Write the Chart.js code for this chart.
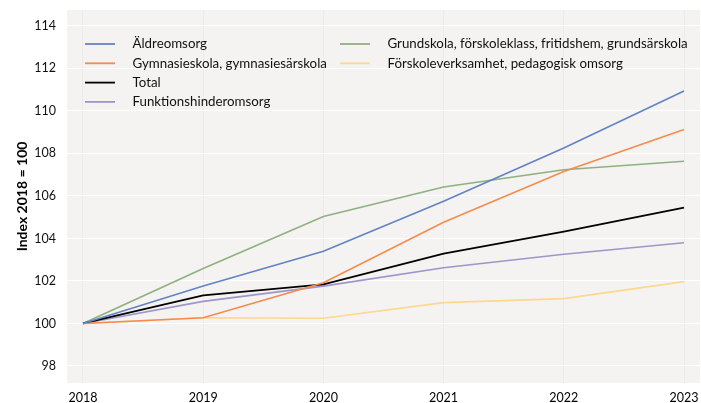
<!DOCTYPE html>
<html>
<head>
<meta charset="utf-8">
<script src="https://cdn.jsdelivr.net/npm/chart.js@4/dist/chart.umd.min.js"></script>
<style>
  html, body { margin: 0; padding: 0; background: #fff; }
  #wrap { width: 701px; height: 403px; }
</style>
</head>
<body>
<div id="wrap"><canvas id="chart"></canvas></div>
<script>
const years = [2018, 2019, 2020, 2021, 2022, 2023];
const yTicks = [98, 100, 102, 104, 106, 108, 110, 112, 114];

const aldreomsorg = [100, 101.76, 103.4, 105.75, 108.26, 110.94];
const gymnasieskola = [100, 100.27, 101.92, 104.76, 107.15, 109.13];
const total = [100, 101.32, 101.84, 103.29, 104.32, 105.45];
const funktionshinder = [100, 101.04, 101.76, 102.62, 103.26, 103.8];
const grundskola = [100, 102.59, 105.03, 106.42, 107.23, 107.63];
const forskola = [100, 100.27, 100.25, 100.98, 101.17, 101.97];

const FONT = "Lato, 'Noto Sans', sans-serif";

const series = [
    { label: 'Äldreomsorg', data: aldreomsorg, color: '#6283c2', width: 1.6 },
    { label: 'Gymnasieskola, gymnasiesärskola', data: gymnasieskola, color: '#f58b4c', width: 1.6 },
    { label: 'Total', data: total, color: '#000000', width: 1.8 },
    { label: 'Funktionshinderomsorg', data: funktionshinder, color: '#9e95cb', width: 1.6 },
    { label: 'Grundskola, förskoleklass, fritidshem, grundsärskola', data: grundskola, color: '#8fb07f', width: 1.6 },
    { label: 'Förskoleverksamhet, pedagogisk omsorg', data: forskola, color: '#fdd88d', width: 1.6 }
];

// light panel behind the plot
const panelBg = {
    id: 'panelBg',
    beforeDraw(chart) {
        const { ctx, chartArea: a } = chart;
        ctx.save();
        ctx.fillStyle = '#f4f3f1';
        ctx.fillRect(a.left, a.top, a.right - a.left, a.bottom - a.top);
        ctx.restore();
    }
};

// two-column legend in the top left of the panel
const colLegend = {
    id: 'colLegend',
    afterDraw(chart) {
        const { ctx, chartArea: a } = chart;
        const cols = [[0, 1, 2, 3], [4, 5]];
        const colX = [a.left + 18, a.left + 273];
        ctx.save();
        ctx.font = '13.3px ' + FONT;
        ctx.textBaseline = 'middle';
        cols.forEach((idx, c) => {
            idx.forEach((i, r) => {
                const ds = chart.data.datasets[i];
                const y = a.top + 34 + r * 19.3;
                ctx.strokeStyle = ds.borderColor;
                ctx.lineWidth = 1.8;
                ctx.beginPath();
                ctx.moveTo(colX[c], y);
                ctx.lineTo(colX[c] + 30, y);
                ctx.stroke();
                ctx.fillStyle = '#111';
                ctx.fillText(ds.label, colX[c] + 47.5, y);
            });
        });
        ctx.restore();
    }
};

new Chart(document.getElementById('chart'), {
    type: 'line',
    data: {
        datasets: series.map(s => ({
            label: s.label,
            data: years.map((yr, i) => ({ x: yr, y: s.data[i] })),
            borderColor: s.color,
            backgroundColor: s.color,
            borderWidth: s.width,
            pointRadius: 0,
            tension: 0
        }))
    },
    options: {
        responsive: true,
        maintainAspectRatio: false,
        animation: false,
        layout: { padding: { top: 10, right: 1, left: 0, bottom: 0 } },
        plugins: {
            legend: { display: false },
            tooltip: { enabled: false }
        },
        scales: {
            x: {
                type: 'linear',
                min: 2017.867,
                max: 2023.133,
                afterBuildTicks: s => { s.ticks = years.map(v => ({ value: v })); },
                afterFit: s => { s.height = 20; s.paddingLeft = 0; s.paddingRight = 0; },
                border: { display: false },
                grid: { color: '#ecebe8', lineWidth: 1, drawTicks: false },
                ticks: {
                    padding: 7,
                    color: '#000',
                    font: { family: FONT, size: 12.5 },
                    callback: v => String(v)
                }
            },
            y: {
                min: 97.2,
                max: 114.75,
                afterBuildTicks: s => { s.ticks = yTicks.map(v => ({ value: v })); },
                afterFit: s => { s.width = 67; s.paddingTop = 0; s.paddingBottom = 0; },
                border: { display: false },
                grid: { color: '#ffffff', lineWidth: 1, drawTicks: false },
                title: {
                    display: true,
                    text: 'Index 2018 = 100',
                    color: '#000',
                    padding: { top: 14, bottom: 0 },
                    font: { family: FONT, size: 14, weight: 'bold' }
                },
                ticks: {
                    padding: 11,
                    color: '#111',
                    font: { family: FONT, size: 12.5 }
                }
            }
        }
    },
    plugins: [panelBg, colLegend]
});
</script>
</body>
</html>
